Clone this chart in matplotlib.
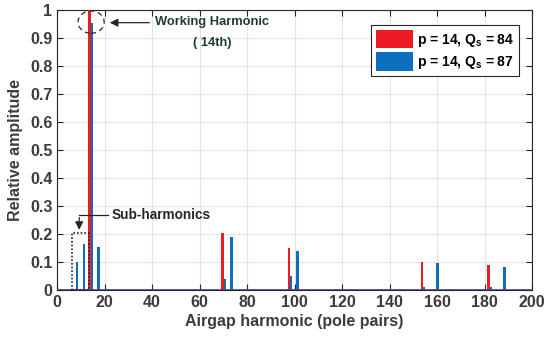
import matplotlib.pyplot as plt
from matplotlib.patches import Ellipse, Rectangle

plt.rcParams['font.family'] = ['Liberation Sans', 'DejaVu Sans']
plt.rcParams['font.weight'] = 'bold'
plt.rcParams['axes.labelweight'] = 'bold'
plt.rcParams['mathtext.fontset'] = 'custom'
plt.rcParams['mathtext.rm'] = 'Liberation Sans:bold'
plt.rcParams['mathtext.it'] = 'Liberation Sans:bold'
plt.rcParams['mathtext.bf'] = 'Liberation Sans:bold'

# harmonic spectra (pole pairs -> relative amplitude)
harm_84 = [14, 70, 98, 154, 182]
amp_84 = [1.0, 0.205, 0.15, 0.10, 0.09]

harm_87 = [8, 11, 14, 17, 70, 73, 98, 101, 154, 160, 182, 188]
amp_87 = [0.10, 0.165, 0.955, 0.155, 0.04, 0.19, 0.05, 0.14, 0.01, 0.095, 0.01, 0.083]

red = '#ed1c24'
blue = '#0b6fbd'
grey = '#3c3c3c'

fig = plt.figure(figsize=(5.44, 3.47), dpi=100)
ax = fig.add_axes([0.105, 0.164, 0.873, 0.807])

ax.bar([h + 0.35 for h in harm_87], amp_87, width=1.2, color=blue, zorder=3,
       label=r'p = 14, Q$_\mathregular{s}$ = 87')
ax.bar([h - 0.35 for h in harm_84], amp_84, width=1.2, color=red, zorder=4,
       label=r'p = 14, Q$_\mathregular{s}$ = 84')
ax.axhline(0, color='#4f4d8c', lw=2, zorder=5)

ax.set_xlim(0, 200)
ax.set_ylim(0, 1)
ax.set_xticks(range(0, 201, 20))
ax.set_yticks([i / 10 for i in range(11)])
ax.set_yticklabels(['0'] + ['0.%d' % i for i in range(1, 10)] + ['1'])
ax.grid(True, color='#e3e3e3', lw=0.8, zorder=0)
ax.tick_params(direction='in', top=True, right=True, labelsize=11.5,
               colors='#262626', labelcolor=grey, length=4)
for s in ax.spines.values():
    s.set_color('#262626')
    s.set_linewidth(0.8)

ax.set_xlabel('Airgap harmonic (pole pairs)', fontsize=11.5, color=grey, labelpad=3)
ax.set_ylabel('Relative amplitude', fontsize=11.5, color=grey, labelpad=5)

handles, labels = ax.get_legend_handles_labels()
leg = ax.legend(handles[::-1], labels[::-1], loc='upper right', fontsize=10,
                handlelength=2.7, handleheight=1.7, borderpad=0.35,
                labelspacing=0.25, handletextpad=0.3, fancybox=False,
                edgecolor='#262626', framealpha=1, bbox_to_anchor=(0.988, 0.972))
leg.get_frame().set_linewidth(0.8)

# working harmonic marker
ax.add_patch(Ellipse((14.3, 0.957), 11, 0.08, fill=False, ls=(0, (4, 3)),
                     color='#262626', lw=0.9, zorder=6))
ax.annotate('', xy=(21, 0.955), xytext=(40, 0.955),
            arrowprops=dict(arrowstyle='-|>', color='#262626', lw=0.9,
                            mutation_scale=12), zorder=6)
ax.text(65.3, 0.957, 'Working Harmonic', fontsize=9.3, color='#1e3d2a',
        ha='center', va='center', zorder=6)
ax.text(65.3, 0.882, '( 14th)', fontsize=9.3, color='#1e3d2a',
        ha='center', va='center', zorder=6)

# sub-harmonic region
ax.add_patch(Rectangle((6.4, 0), 7.2, 0.205, fill=False, ls=(0, (1, 1.2)),
                       color='#262626', lw=1.2, zorder=6))
ax.plot([9.3, 21.5], [0.268, 0.268], color='#262626', lw=0.9, zorder=6)
ax.annotate('', xy=(9.3, 0.205), xytext=(9.3, 0.269),
            arrowprops=dict(arrowstyle='-|>', color='#262626', lw=0.9,
                            mutation_scale=12), zorder=6)
ax.text(23, 0.268, 'Sub-harmonics', fontsize=9.8, color='#262626',
        ha='left', va='center', zorder=6)

fig.savefig('out.png', dpi=100)
